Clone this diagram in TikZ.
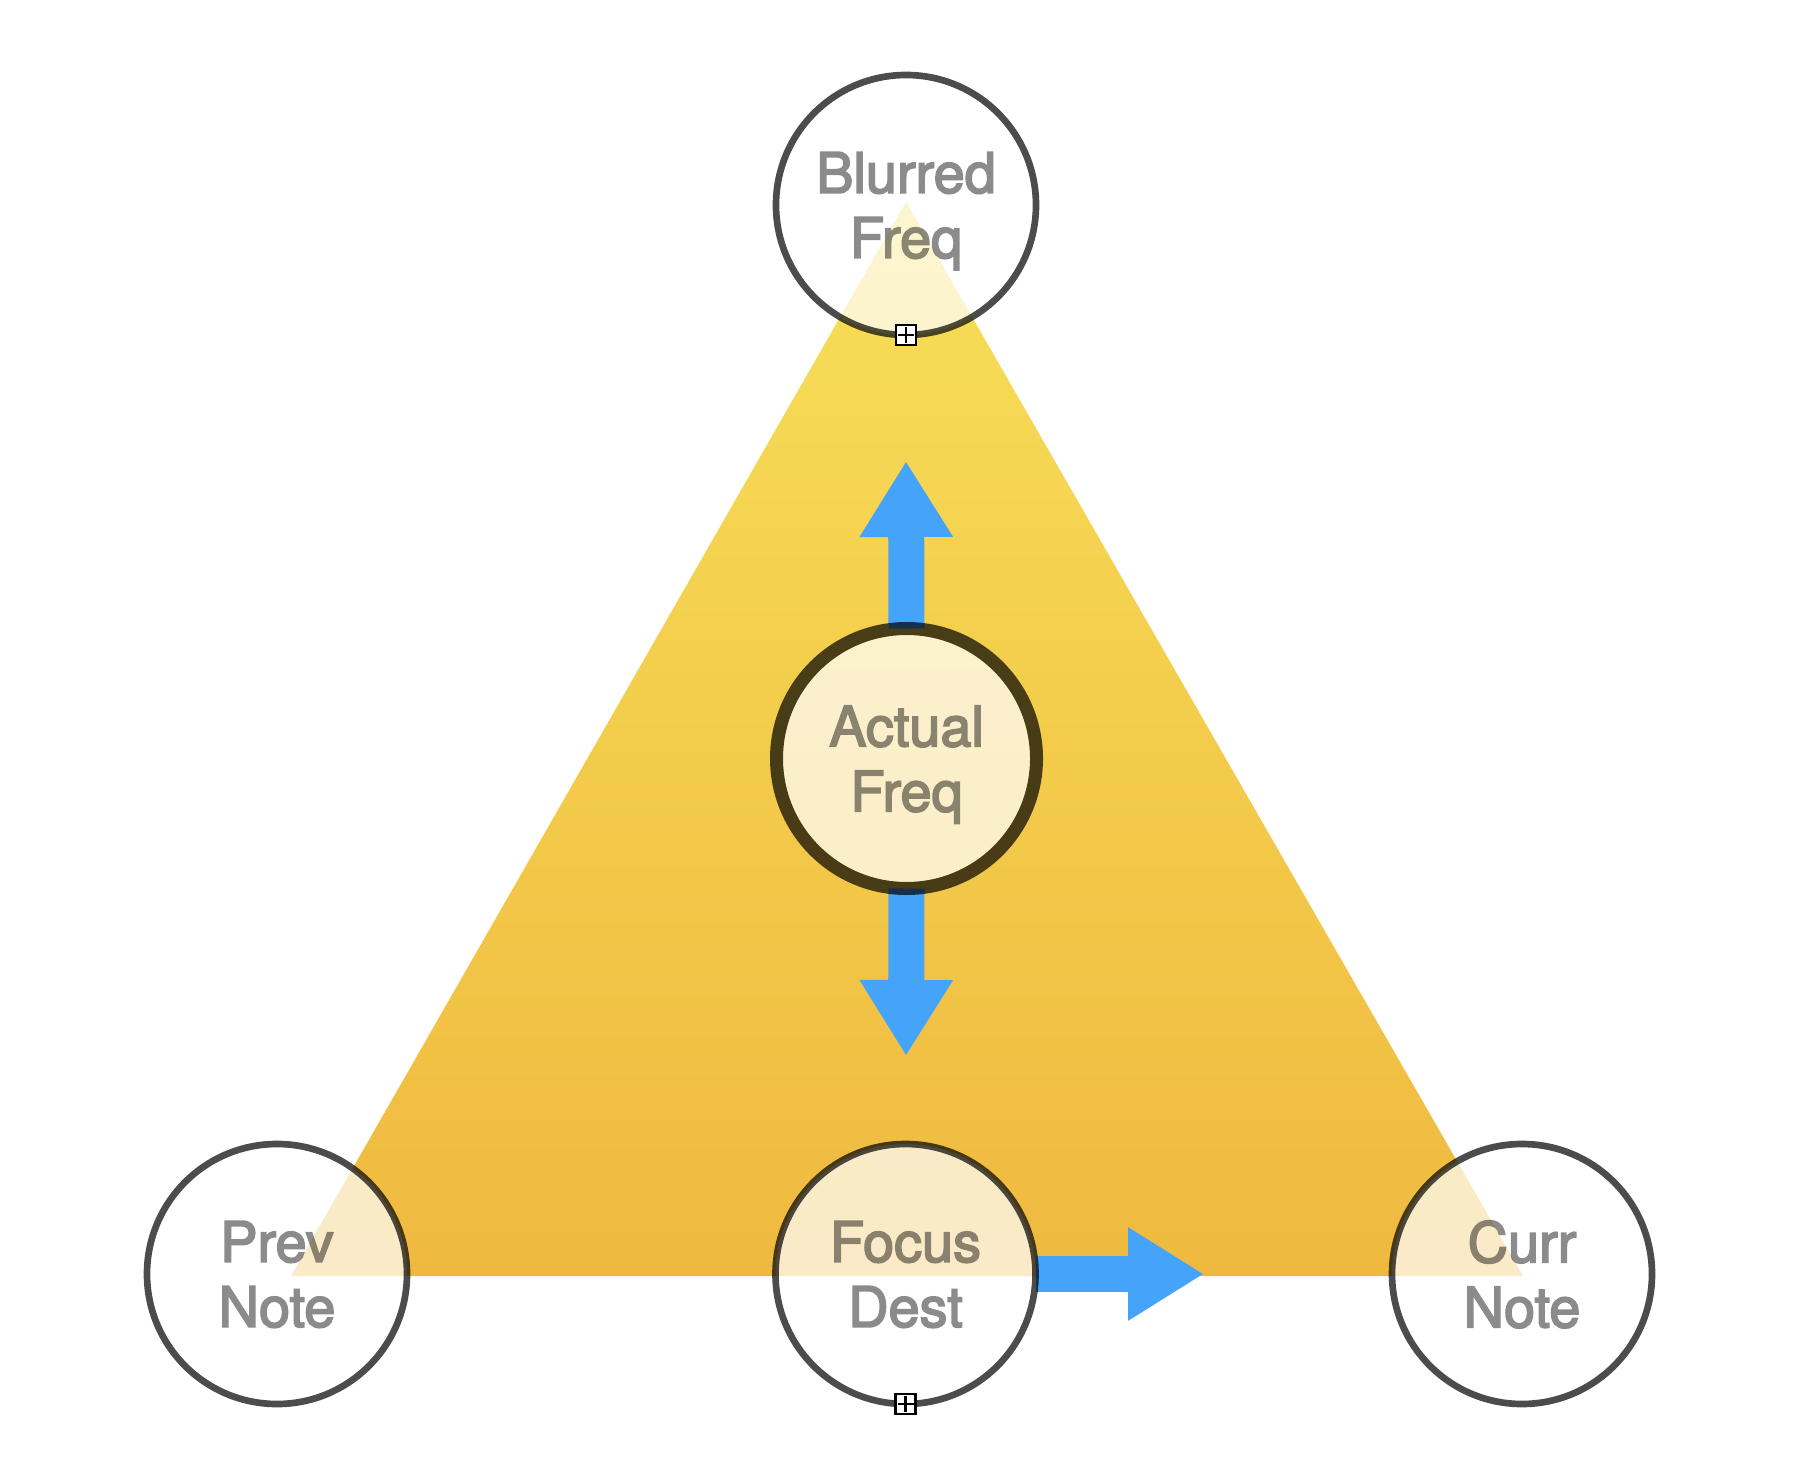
\documentclass[tikz,border=0pt]{standalone}
\usepackage{fontspec}
\setmainfont{TeX Gyre Heros}
\newfontfamily\bubblefont[FakeBold=3]{TeX Gyre Heros}
\usetikzlibrary{arrows.meta,backgrounds}

\definecolor{flowblue}{RGB}{69,163,249}
\definecolor{triangletop}{RGB}{247,223,88}
\definecolor{trianglebottom}{RGB}{239,185,63}

\tikzset{
  bubble/.style={circle, minimum size=2.6cm, inner sep=0pt, outer sep=0pt,
    draw=black, draw opacity=0.7, line width=1.9pt,
    fill=white, fill opacity=0.71},
  mainbubble/.style={bubble, fill=none, line width=3.7pt},
  bubbletext/.style={inner sep=0pt, align=center, text depth=-0.06cm,
    text=black, font=\bubblefont\fontsize{15.9}{18.5}\selectfont},
  expander/.style={draw=black, fill=white, line width=0.65pt,
    minimum size=0.2cm, inner sep=0pt, outer sep=0pt,
    path picture={
      \draw[line width=0.6pt] ([xshift=0.02cm]path picture bounding box.west)
        -- ([xshift=-0.02cm]path picture bounding box.east);
      \draw[line width=0.6pt] ([yshift=-0.02cm]path picture bounding box.north)
        -- ([yshift=0.02cm]path picture bounding box.south);}},
  flow/.style={flowblue, line width=0.36cm,
    -{Triangle[length=0.76cm,width=0.88cm]}}
}

\begin{document}
\begin{tikzpicture}
  \useasboundingbox (0,0) rectangle (18.02,14.74);

  \coordinate (top) at (9.06,12.72);
  \coordinate (left) at (2.91,1.98);
  \coordinate (right) at (15.23,1.98);

  \node[bubble] (blurred) at (9.06,12.69) {};
  \node[mainbubble] (actual) at (9.065,7.155) {};
  \node[bubble] (prev) at (2.77,2.00) {};
  \node[bubble] (focus) at (9.055,2.00) {};
  \node[bubble] (curr) at (15.22,2.00) {};

  % the labels, greyed out as one group
  \begin{scope}[transparency group, opacity=0.45]
    \node[bubbletext, text depth=-0.17cm] (blurredtext) at (blurred) {Blurred\\Freq};
    \node[bubbletext] (actualtext) at (actual) {Actual\\Freq};
    \node[bubbletext] (prevtext) at (prev) {Prev\\Note};
    \node[bubbletext] (focustext) at (focus) {Focus\\Dest};
    \node[bubbletext] (currtext) at (curr) {Curr\\Note};
  \end{scope}

  \node[expander] (blurredplus) at (blurred.south) {};
  \node[expander] (focusplus) at (focus.south) {};

  \coordinate (uptip) at (9.06,10.13);
  \coordinate (downtip) at (9.06,4.18);
  \coordinate (righttip) at (12.04,2.00);

  \begin{pgfonlayer}{background}
    \shade[top color=triangletop, bottom color=trianglebottom]
      (top) -- (left) -- (right) -- cycle;
    \draw[flow] (actual.north) -- (uptip);
    \draw[flow] (actual.south) -- (downtip);
    \draw[flow] (focus.east) -- (righttip);
    % inner fill of the thick ring, kept clear of the stroke
    \fill[white, fill opacity=0.71] (actual.center) circle (1.235cm);
  \end{pgfonlayer}
\end{tikzpicture}
\end{document}
